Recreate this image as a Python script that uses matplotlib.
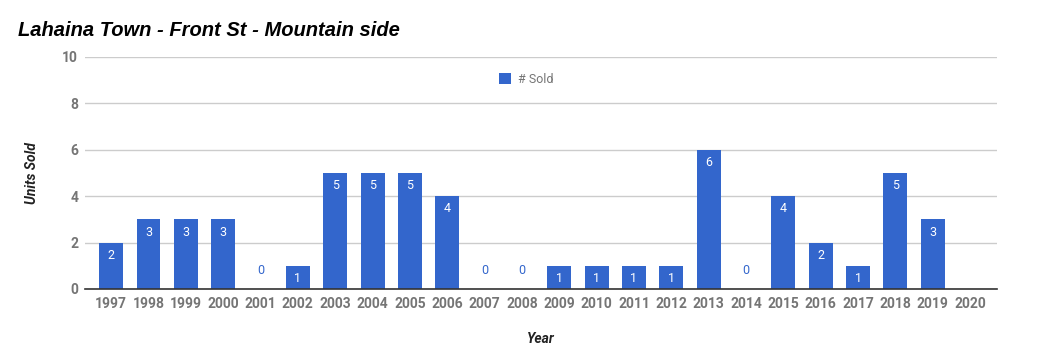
import matplotlib
matplotlib.use("Agg")
import matplotlib.pyplot as plt
import numpy as np

years = [str(y) for y in range(1997, 2021)]
sold = [2, 3, 3, 3, 0, 1, 5, 5, 5, 4, 0, 0, 1, 1, 1, 1, 6, 0, 4, 2, 1, 5, 3, np.nan]

blue = "#3366cc"
grey = "#757575"

plt.rcParams["font.family"] = ["Roboto", "DejaVu Sans"]

fig = plt.figure(figsize=(10.52, 3.64), dpi=100)
ax = fig.add_axes([85 / 1052, 1 - 289 / 364, 912 / 1052, 232 / 364])

x = np.arange(len(years))
bars = ax.bar(x, sold, width=0.64, color=blue, label="# Sold", zorder=3)

for xi, v in zip(x, sold):
    if np.isnan(v):
        continue
    if v > 0:
        ax.text(xi, v - 0.55, str(int(v)), ha="center", va="center",
                color="white", fontsize=9, zorder=4)
    else:
        ax.text(xi, 0.8, "0", ha="center", va="center",
                color=blue, fontsize=9, zorder=4)

ax.set_xlim(-0.7, 23.72)
ax.set_ylim(0, 10)
ax.set_yticks([0, 2, 4, 6, 8, 10])
ax.set_xticks(x)
ax.set_xticklabels(years)
ax.tick_params(axis="both", length=0, labelsize=10, colors=grey)
ax.tick_params(axis="x", pad=6)
ax.tick_params(axis="y", pad=5)
for lbl in ax.get_xticklabels() + ax.get_yticklabels():
    lbl.set_fontweight("bold")

ax.grid(axis="y", color="#cccccc", linewidth=1, zorder=0)
for s in ["top", "right", "left"]:
    ax.spines[s].set_visible(False)
ax.spines["bottom"].set_color("#333333")
ax.spines["bottom"].set_linewidth(1.2)
ax.spines["bottom"].set_zorder(5)

ax.set_xlabel("Year", fontsize=10, fontweight="bold", fontstyle="italic",
              color="#222222", labelpad=15)
ax.set_ylabel("Units Sold", fontsize=10, fontweight="bold", fontstyle="italic",
              color="#222222", labelpad=17)

ax.legend(loc="upper center", bbox_to_anchor=(0.484, 0.98), frameon=False,
          fontsize=9, labelcolor=grey, handlelength=0.9, handleheight=0.9,
          handletextpad=0.6)

fig.text(18 / 1052, 1 - 30 / 364, "Lahaina Town - Front St - Mountain side",
         fontsize=14.5, fontweight="bold", fontstyle="italic",
         family=["Liberation Sans", "DejaVu Sans"], va="center", ha="left")

fig.savefig("out.png", dpi=100)
